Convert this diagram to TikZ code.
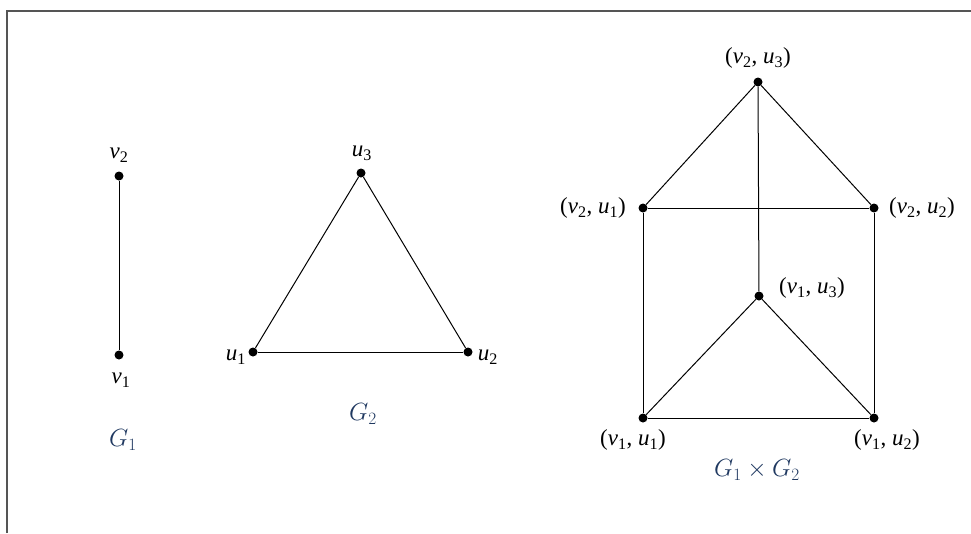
\documentclass[tikz,border=0pt]{standalone}
\usepackage{amsmath}
\usepackage{fontspec}
\setmainfont{Liberation Serif}
\usepackage{xcolor}
\definecolor{capblue}{HTML}{1F3860}
\definecolor{framegray}{HTML}{555555}
\newcommand{\vsub}[1]{\textit{v}\textsubscript{#1}}
\newcommand{\usub}[1]{\textit{u}\textsubscript{#1}}

\begin{document}
\begin{tikzpicture}[
  x=1pt,y=-1pt,
  vtx/.style={circle,fill=black,inner sep=0pt,minimum size=9pt},
  lbl/.style={font=\fontsize{23}{26}\selectfont,inner sep=0pt},
  gcap/.style={font=\fontsize{27}{30}\selectfont,text=capblue,inner sep=0pt},
  edge/.style={draw=black,line width=1pt}
]
\useasboundingbox (0,0) rectangle (971,533);
\draw[framegray,line width=1.6pt] (7,533) -- (7,11) -- (971,11);

% G1
\node[vtx] (v2) at (119,176) {};
\node[vtx] (v1) at (119,355) {};
\draw[edge] (v1) -- (v2);
\node[lbl] (lv2) at (119,155) {\vsub{2}};
\node[lbl] (lv1) at (121,380) {\vsub{1}};
\node[gcap] (g1) at (123,440) {$G_1$};

% G2
\node[vtx] (u3) at (361,173) {};
\node[vtx] (u1) at (253,352) {};
\node[vtx] (u2) at (468,352) {};
\foreach \a/\b in {u1/u2,u2/u3,u3/u1} {\draw[edge] (\a) -- (\b);}
\node[lbl] (lu3) at (362,153) {\usub{3}};
\node[lbl] (lu1) at (236,357) {\usub{1}};
\node[lbl] (lu2) at (488,357) {\usub{2}};
\node[gcap] (g2) at (363,414) {$G_2$};

% G1 x G2
\node[vtx] (p23) at (758,82) {};
\node[vtx] (p21) at (643,208) {};
\node[vtx] (p22) at (874,208) {};
\node[vtx] (p13) at (759,296) {};
\node[vtx] (p11) at (643,418) {};
\node[vtx] (p12) at (874,418) {};
\foreach \a/\b in {p23/p21,p23/p22,p23/p13,p21/p22,p21/p11,p22/p12,p13/p11,p13/p12,p11/p12}
  {\draw[edge] (\a) -- (\b);}
\node[lbl] (lp23) at (758,58) {(\vsub{2}, \usub{3})};
\node[lbl] (lp21) at (593,208) {(\vsub{2}, \usub{1})};
\node[lbl] (lp22) at (922,208) {(\vsub{2}, \usub{2})};
\node[lbl] (lp13) at (812,288) {(\vsub{1}, \usub{3})};
\node[lbl] (lp11) at (633,440) {(\vsub{1}, \usub{1})};
\node[lbl] (lp12) at (887,440) {(\vsub{1}, \usub{2})};
\node[gcap] (g12) at (757,470) {$G_1\times G_2$};
\end{tikzpicture}
\end{document}
